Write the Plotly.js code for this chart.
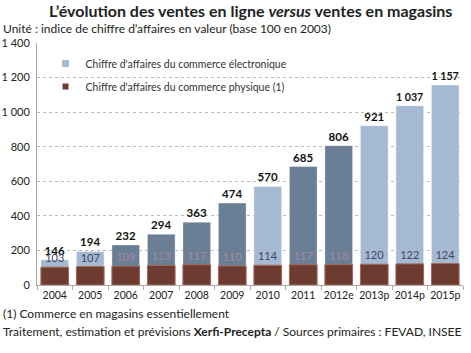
<!DOCTYPE html>
<html><head><meta charset="utf-8">
<script src="https://cdn.plot.ly/plotly-3.0.1.min.js"></script>
<style>html,body{margin:0;padding:0;background:#fff;}#c{width:471px;height:353px;}</style>
</head><body><div id="c"></div>
<script>
const years = ["2004","2005","2006","2007","2008","2009","2010","2011","2012e","2013p","2014p","2015p"];
const ecommerce = [146,194,232,294,363,474,570,685,806,921,1037,1157];
const physique = [103,107,109,113,117,110,114,117,118,120,122,124];
const shade = ["light","light","dark","dark","dark","dark","light","dark","dark","light","light","light"];
const legendNames = ["Chiffre d'affaires du commerce électronique","Chiffre d'affaires du commerce physique (1)"];

const LIGHT = "#a6b9d2", DARK = "#6a7e95", BROWN = "#6e3b31";
const font = "Lato, Liberation Sans, sans-serif";
const fmt = v => v >= 1000 ? String(v).replace(/(\d)(\d{3})$/, "$1 $2") : String(v);

const traces = [
  {type:"bar", name:legendNames[0], x:years, y:ecommerce, showlegend:false,
   marker:{color:shade.map(s=>s==="light"?LIGHT:DARK), line:{color:"rgba(255,255,255,0.6)", width:0.6}},
   text:ecommerce.map(fmt), textposition:"outside", cliponaxis:false,
   textfont:{family:font, size:11.5, color:"#111", weight:"bold"}, width:0.78},
  {type:"bar", name:legendNames[1], x:years, y:physique, showlegend:false,
   marker:{color:BROWN, line:{color:"#a36a5a", width:1}},
   text:physique.map(String), textposition:"outside", cliponaxis:false,
   textfont:{family:font, size:11, color:shade.map(s=>s==="light"?"#3f4862":"#a38a9a")}, width:0.78},
  {type:"scatter", mode:"markers", name:legendNames[0], x:[null], y:[null], legendgroup:"a",
   marker:{symbol:"square", size:6, color:LIGHT, line:{color:"#7f93ad", width:0.5}}},
  {type:"scatter", mode:"markers", name:legendNames[1], x:[null], y:[null], legendgroup:"b",
   marker:{symbol:"square", size:6, color:BROWN}}
];

const layout = {
  width:471, height:353, paper_bgcolor:"#fff", plot_bgcolor:"#fff",
  margin:{l:37, r:8, t:43, b:68},
  barmode:"overlay", separators:", ", showlegend:true,
  font:{family:font, size:11, color:"#222"},
  legend:{x:0.02, y:0.975, xanchor:"left", yanchor:"top", bgcolor:"rgba(0,0,0,0)",
    font:{family:font, size:10.5, color:"#333"}, traceorder:"grouped", itemwidth:30, tracegroupgap:4},
  xaxis:{type:"category", showline:true, linecolor:"#aaa", linewidth:1, ticks:"outside", tickson:"boundaries",
    ticklen:4, tickcolor:"#aaa", tickfont:{size:10.5, color:"#222"}, tickangle:0, showgrid:false},
  yaxis:{range:[0,1400], dtick:200, showline:true, linecolor:"#aaa", linewidth:1,
    showgrid:true, gridcolor:"#b8b8b8", griddash:"dot", gridwidth:1, zeroline:false,
    tickfont:{size:11, color:"#222"}, tickformat:",d", ticklabelstandoff:4},
  annotations:[
    {text:"L’évolution des ventes en ligne <i>versus</i> ventes en magasins", xref:"paper", yref:"paper",
     x:0.5, y:1, xanchor:"center", yanchor:"bottom", yshift:21, showarrow:false,
     font:{family:font, size:16, color:"#222", weight:"bold"}},
    {text:"Unité : indice de chiffre d’affaires en valeur (base 100 en 2003)", xref:"paper", yref:"paper",
     x:-37/426, y:1, xanchor:"left", yanchor:"bottom", yshift:5, xshift:1, showarrow:false,
     font:{family:font, size:12, color:"#222"}},
    {text:"(1) Commerce en magasins essentiellement", xref:"paper", yref:"paper",
     x:-37/426, y:0, xanchor:"left", yanchor:"top", yshift:-19, xshift:1, showarrow:false,
     font:{family:font, size:12, color:"#222"}},
    {text:"Traitement, estimation et prévisions <b>Xerfi-Precepta</b> / Sources primaires : FEVAD, INSEE", xref:"paper", yref:"paper",
     x:-37/426, y:0, xanchor:"left", yanchor:"top", yshift:-37, xshift:1, showarrow:false,
     font:{family:font, size:12, color:"#222"}}
  ]
};
Plotly.newPlot("c", traces, layout, {displayModeBar:false, staticPlot:true});
</script></body></html>
